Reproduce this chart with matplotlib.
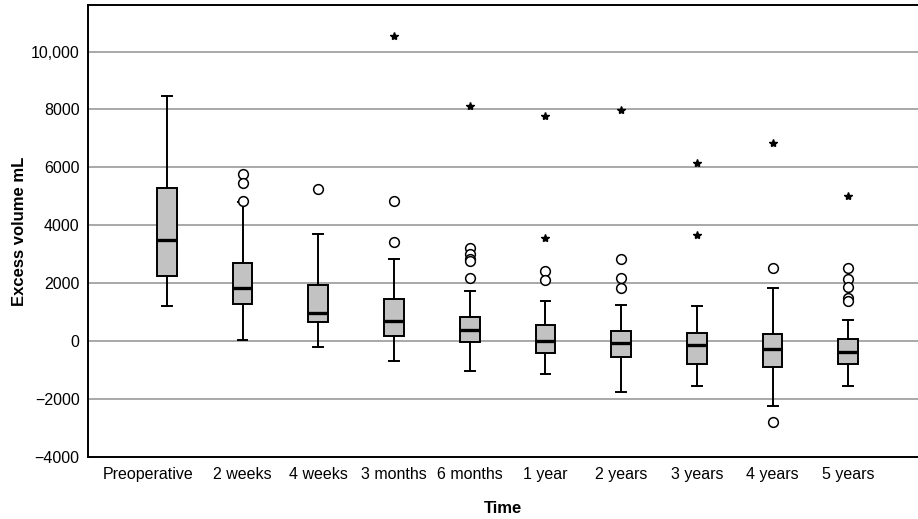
import numpy as np
import matplotlib
matplotlib.use("Agg")
import matplotlib.pyplot as plt
import matplotlib.transforms as mtransforms

plt.rcParams['font.family'] = ['Liberation Sans', 'DejaVu Sans']

labels = ['Preoperative', '2 weeks', '4 weeks', '3 months', '6 months',
          '1 year', '2 years', '3 years', '4 years', '5 years']
whislo = [1207, 48, -217, -700, -1045, -1138, -1745, -1552, -2227, -1552]
q1 = [2265, 1290, 645, 172, -21, -400, -552, -803, -883, -793]
med = [3507, 1841, 965, 690, 379, -10, -79, -138, -276, -390]
q3 = [5300, 2690, 1931, 1448, 841, 541, 334, 276, 241, 59]
whishi = [8448, 4793, 3690, 2841, 1738, 1369, 1265, 1207, 1841, 714]
# circles = outliers, stars = extreme values
circles = [[], [5772, 5462, 4851], [5241], [4851, 3427],
           [3220, 3020, 2850, 2780, 2186], [2414, 2117],
           [2852, 2186, 1841], [], [2517, -2803],
           [2517, 2151, 1862, 1483, 1403]]
stars = [[], [], [], [10551], [8116], [7782, 3551], [7989],
         [6137, 3679], [6851], [5000]]
yticks = [-4000, -2000, 0, 2000, 4000, 6000, 8000, 10000]
ytick_labels = ['\u22124000', '\u22122000', '0', '2000', '4000', '6000', '8000', '10,000']

stats = []
for i in range(len(labels)):
    stats.append(dict(label=labels[i], whislo=whislo[i], q1=q1[i], med=med[i],
                      q3=q3[i], whishi=whishi[i], fliers=circles[i]))

fig = plt.figure(figsize=(9.18, 5.19), dpi=100)
ax = fig.add_axes([0.0959, 0.1195, 0.9041, 0.8705])

ax.set_axisbelow(True)
ax.yaxis.grid(True, color='#a8a8a8', linewidth=1.4)

pos = np.arange(len(labels))
ax.bxp(stats, positions=pos, widths=0.26, capwidths=0.13, patch_artist=True,
       boxprops=dict(facecolor='#c2c2c2', edgecolor='black', linewidth=1.4),
       medianprops=dict(color='black', linewidth=2.4),
       whiskerprops=dict(color='black', linewidth=1.4),
       capprops=dict(color='black', linewidth=1.4),
       flierprops=dict(marker='o', markerfacecolor='white', markeredgecolor='black',
                       markersize=7, markeredgewidth=1.1))

for i, s in enumerate(stars):
    if s:
        ax.plot([pos[i]] * len(s), s, linestyle='none', marker='*',
                color='black', markersize=6)

ax.set_xlim(-1.04, 9.92)
ax.set_ylim(-4000, 11600)
ax.set_yticks(yticks)
ax.set_yticklabels(ytick_labels)
ax.set_xticks(pos)
ax.set_xticklabels(labels)
ax.tick_params(axis='both', length=0, labelsize=11.5, colors='black')
ax.tick_params(axis='y', pad=6)
ax.tick_params(axis='x', pad=7)

# the first label sits a little left of its box in the original
first = ax.get_xticklabels()[0]
first.set_transform(first.get_transform() +
                    mtransforms.ScaledTranslation(-0.19, 0, fig.dpi_scale_trans))

ax.spines['right'].set_visible(False)
for sp in ['left', 'bottom', 'top']:
    ax.spines[sp].set_linewidth(1.4)
    ax.spines[sp].set_color('black')

ax.set_xlabel('Time', fontsize=12, fontweight='bold', labelpad=14)
ax.set_ylabel('Excess volume mL', fontsize=12, fontweight='bold')
ax.yaxis.set_label_coords(-0.074, 0.5)

fig.savefig('out.png', dpi=100)
